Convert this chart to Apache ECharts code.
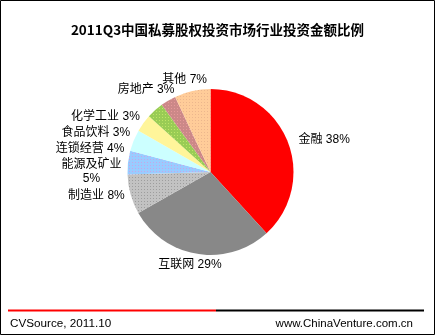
<!DOCTYPE html>
<html><head><meta charset="utf-8">
<script src="https://cdn.jsdelivr.net/npm/echarts@6/dist/echarts.min.js"></script>
<style>html,body{margin:0;padding:0;background:#fff}#c{width:435px;height:335px}</style>
</head><body><div id="c"></div>
<script>
const categories = ['金融','互联网','制造业','能源及矿业','连锁经营','食品饮料','化学工业','房地产','其他'];
const values = [38.2,28.6,7.7,4.6,4.2,3.4,3.3,3.0,7.0];
const colors = ['#FF0000','#888888','#C2C2C2','#99CCFF','#CCFFFF','#FFF59A','#99CC55','#CC8888','#FFCC99'];
const dotColors = [null,null,'rgba(90,90,90,0.35)','rgba(255,120,200,0.45)',null,null,'rgba(230,255,120,0.5)','rgba(255,170,170,0.5)','rgba(200,140,120,0.35)'];
const FONT = '"Liberation Sans","Noto Sans CJK SC",sans-serif';

const CX = 210.5, CY = 172, R = 83;
const total = values.reduce((a,b)=>a+b,0);
const midAngles = [];
let acc = 0;
values.forEach(v=>{ midAngles.push((acc + v/2)/total*2*Math.PI); acc += v; });
// labels near the top/bottom get an Excel-like placement around the rim
const rimLabels = new Set([1,7,8]);
const clamp = v => Math.max(-1, Math.min(1, v));

const chart = echarts.init(document.getElementById('c'));
chart.setOption({
  animation:false,
  title:{text:'2011Q3中国私募股权投资市场行业投资金额比例',left:'center',top:18,
    textStyle:{fontSize:13.5,fontWeight:'bold',color:'#000',fontFamily:'"Noto Sans CJK SC",sans-serif'}},
  series:[{
    type:'pie',
    center:[CX,CY],
    radius:[0,R],
    startAngle:90,
    clockwise:true,
    data:categories.map((c,i)=>({name:c,value:values[i],
      itemStyle:{color:colors[i], decal: dotColors[i] ? {symbol:'rect',symbolSize:1,dashArrayX:[[1,2]],dashArrayY:[1,2],color:dotColors[i],rotation:0} : undefined}})),
    label:{show:true,position:'outside',color:'#000',fontSize:12,fontFamily:FONT,lineHeight:14,overflow:'none',
      formatter:p=>p.name + (p.name.length>4 ? '\n' : ' ') + Math.round(p.value) + '%'},
    labelLine:{show:false,length:6,length2:0},
    labelLayout:function(params){
      const i = params.dataIndex, r = params.labelRect;
      if (rimLabels.has(i)) {
        const a = midAngles[i], dx = Math.sin(a), dy = -Math.cos(a), d = R + 4;
        return {x: CX + dx*d + clamp(dx*1.4)*r.width/2, y: CY + dy*d + clamp(dy*2)*r.height/2, align:'center', verticalAlign:'middle'};
      }
      return {x: r.x + r.width/2, y: r.y + r.height/2, align:'center', verticalAlign:'middle'};
    },
    itemStyle:{borderWidth:0},
    emphasis:{disabled:true}
  }],
  graphic:[
    {type:'rect',shape:{x:0.5,y:0.5,width:434,height:334},style:{fill:null,stroke:'#000',lineWidth:1}},
    {type:'rect',shape:{x:8,y:309.5,width:208,height:2},style:{fill:'#FF0000'}},
    {type:'rect',shape:{x:216,y:309.5,width:208,height:2},style:{fill:'#000'}},
    {type:'text',left:10,top:318,style:{text:'CVSource, 2011.10',fontSize:11.7,fill:'#000',fontFamily:FONT}},
    {type:'text',right:22,top:318,style:{text:'www.ChinaVenture.com.cn',fontSize:11.5,fill:'#000',fontFamily:FONT}}
  ]
});
</script></body></html>
